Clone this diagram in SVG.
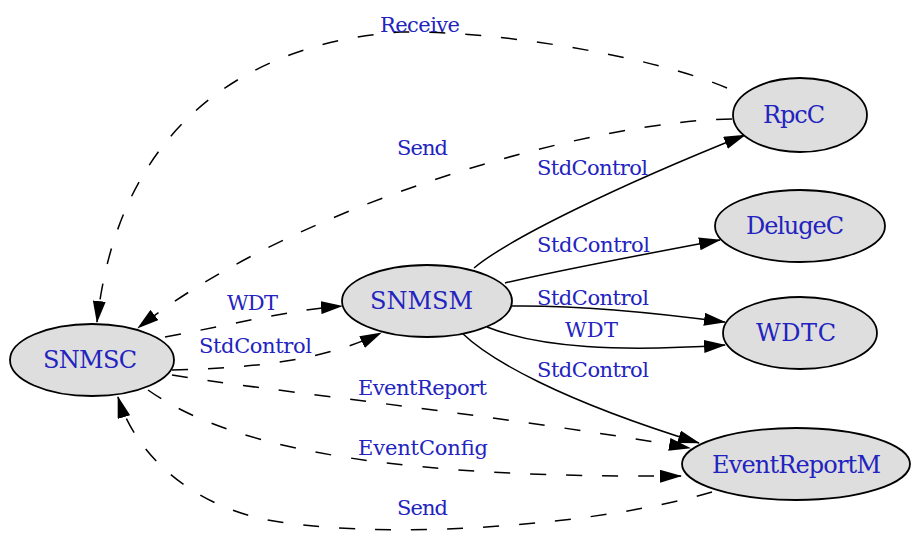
<svg xmlns="http://www.w3.org/2000/svg" width="911" height="533" viewBox="0 0 911 533">
<style>
.node ellipse{fill:#dedede;stroke:#000;stroke-width:1.8}
text{font-family:"DejaVu Serif","Liberation Serif",serif;font-size:21px;fill:#2323c0}
.node text{font-size:24px}
.e{fill:none;stroke:#000;stroke-width:1.5}
.d{stroke-dasharray:16,20}
.s{marker-end:url(#arr)}
</style>
<defs>
<marker id="arr" markerUnits="userSpaceOnUse" viewBox="0 0 22 13" markerWidth="22" markerHeight="13" refX="21" refY="6.5" orient="auto">
<path d="M0,0 L22,6.5 L0,13 z" fill="#000"/>
</marker>
</defs>
<rect width="911" height="533" fill="#fff"/>
<g id="edges">
<path class="e d s" d="M727,88 C650,55 490,30 400,32 C260,42 120,115 97,322"/>
<path class="e d s" d="M732,119 C600,120 300,200 138,328"/>
<path class="e d s" d="M165,337 C230,325 290,310 342,306"/>
<path class="e d s" d="M172,370 C250,368 320,362 381,333"/>
<path class="e d s" d="M172,375 C260,390 500,415 690,448"/>
<path class="e d s" d="M148,390 C240,455 420,478 681,476"/>
<path class="e d s" d="M712,492 C600,525 400,540 280,522 C195,510 135,455 118,397"/>
<path class="e s" d="M474,268 C510,238 620,185 745,135"/>
<path class="e s" d="M505,283 C560,270 640,255 720,240"/>
<path class="e s" d="M510,306 C570,305 650,312 725,322"/>
<path class="e s" d="M487,327 C540,348 620,352 725,345"/>
<path class="e s" d="M462,333 C490,360 560,400 699,443"/>
<text x="380" y="32" textLength="80" lengthAdjust="spacing">Receive</text>
<text x="397" y="155" textLength="51" lengthAdjust="spacing">Send</text>
<text x="537" y="175" textLength="111" lengthAdjust="spacing">StdControl</text>
<text x="537" y="252" textLength="113" lengthAdjust="spacing">StdControl</text>
<text x="537" y="305" textLength="112" lengthAdjust="spacing">StdControl</text>
<text x="565" y="337" textLength="53" lengthAdjust="spacing">WDT</text>
<text x="537" y="377" textLength="112" lengthAdjust="spacing">StdControl</text>
<text x="227" y="310" textLength="51" lengthAdjust="spacing">WDT</text>
<text x="199" y="353" textLength="113" lengthAdjust="spacing">StdControl</text>
<text x="358" y="395" textLength="129" lengthAdjust="spacing">EventReport</text>
<text x="358" y="455" textLength="130" lengthAdjust="spacing">EventConfig</text>
<text x="397" y="515" textLength="51" lengthAdjust="spacing">Send</text>
</g>
<g id="SNMSC" class="node"><ellipse cx="92" cy="360" rx="82" ry="36"/><text x="43" y="368" textLength="94" lengthAdjust="spacing">SNMSC</text></g>
<g id="SNMSM" class="node"><ellipse cx="427" cy="301" rx="85" ry="36"/><text x="370" y="309" textLength="103" lengthAdjust="spacing">SNMSM</text></g>
<g id="RpcC" class="node"><ellipse cx="800" cy="115" rx="67" ry="37"/><text x="763" y="123" textLength="62" lengthAdjust="spacing">RpcC</text></g>
<g id="DelugeC" class="node"><ellipse cx="800" cy="226" rx="85" ry="36"/><text x="746" y="234" textLength="98" lengthAdjust="spacing">DelugeC</text></g>
<g id="WDTC" class="node"><ellipse cx="800" cy="333" rx="77" ry="36"/><text x="756" y="341" textLength="80" lengthAdjust="spacing">WDTC</text></g>
<g id="EventReportM" class="node"><ellipse cx="796" cy="464" rx="114" ry="36"/><text x="712" y="473" textLength="169" lengthAdjust="spacing">EventReportM</text></g>
</svg>
